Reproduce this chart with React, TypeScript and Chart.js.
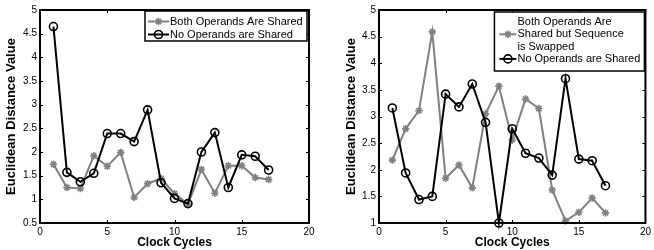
import React, { useEffect, useRef } from "react";
import { Chart, registerables } from "chart.js";
Chart.register(...registerables);

const cycles = [1, 2, 3, 4, 5, 6, 7, 8, 9, 10, 11, 12, 13, 14, 15, 16, 17];
const leftBoth = [1.74, 1.25, 1.23, 1.92, 1.70, 1.99, 1.04, 1.33, 1.44, 1.12, 0.90, 1.63, 1.13, 1.71, 1.71, 1.46, 1.42];
const leftNone = [4.65, 1.57, 1.37, 1.55, 2.39, 2.39, 2.22, 2.89, 1.35, 1.02, 0.91, 2.0, 2.41, 1.25, 1.94, 1.91, 1.62];
const rightSwapped = [2.18, 2.77, 3.11, 4.59, 1.84, 2.09, 1.66, 3.05, 3.57, 2.56, 3.33, 3.15, 1.62, 1.04, 1.20, 1.47, 1.19];
const rightNone = [3.16, 1.94, 1.44, 1.50, 3.42, 3.18, 3.61, 2.89, 1.0, 2.77, 2.31, 2.22, 1.90, 3.71, 2.20, 2.17, 1.70];

const xTicks = [0, 5, 10, 15, 20];
const leftYTicks = [0.5, 1, 1.5, 2, 2.5, 3, 3.5, 4, 4.5, 5];
const rightYTicks = [1, 1.5, 2, 2.5, 3, 3.5, 4, 4.5, 5];

const xTitle = "Clock Cycles";
const yTitle = "Euclidean Distance Value";
const legendLeft = [["Both Operands Are Shared"], ["No Operands are Shared"]];
const legendRight = [["Both Operands Are", "Shared but Sequence", "is Swapped"], ["No Operands are Shared"]];

const FONT = "'Liberation Sans', Arial, Helvetica, sans-serif";
const GRAY = "#808080";
const BLACK = "#000000";

function drawMarker(ctx: CanvasRenderingContext2D, style: string, x: number, y: number, r: number, color: string, lw: number) {
  ctx.save();
  ctx.strokeStyle = color;
  ctx.lineWidth = lw;
  ctx.beginPath();
  if (style === "circle") {
    ctx.arc(x, y, r, 0, Math.PI * 2);
  } else {
    for (let k = 0; k < 4; k++) {
      const a = (k * Math.PI) / 4;
      ctx.moveTo(x - Math.cos(a) * r, y - Math.sin(a) * r);
      ctx.lineTo(x + Math.cos(a) * r, y + Math.sin(a) * r);
    }
  }
  ctx.stroke();
  ctx.restore();
}

const framePlugin = {
  id: "frame",
  afterDatasetsDraw(chart: any) {
    const { ctx, chartArea } = chart;
    const { left, right, top, bottom } = chartArea;
    const xs = chart.scales.x;
    const ys = chart.scales.y;
    const tl = 3;
    ctx.save();
    ctx.strokeStyle = "#000";
    ctx.lineWidth = 1;
    ctx.beginPath();
    xs.ticks.forEach((t: any) => {
      const px = Math.round(xs.getPixelForValue(t.value)) + 0.5;
      ctx.moveTo(px, bottom);
      ctx.lineTo(px, bottom - tl);
      ctx.moveTo(px, top);
      ctx.lineTo(px, top + tl);
    });
    ys.ticks.forEach((t: any) => {
      const py = Math.round(ys.getPixelForValue(t.value)) + 0.5;
      ctx.moveTo(left, py);
      ctx.lineTo(left + tl, py);
      ctx.moveTo(right, py);
      ctx.lineTo(right - tl, py);
    });
    ctx.stroke();
    ctx.lineWidth = 2;
    ctx.strokeRect(left, top, right - left, bottom - top);
    ctx.restore();
  },
};

const boxLegendPlugin = {
  id: "boxLegend",
  afterDraw(chart: any, _args: any, opts: any) {
    if (!opts || !opts.entries) return;
    const { ctx, chartArea } = chart;
    const bx = chartArea.right - opts.rightGap - opts.width;
    const by = chartArea.top + opts.topGap;
    ctx.save();
    ctx.fillStyle = "#fff";
    ctx.fillRect(bx, by, opts.width, opts.height);
    ctx.strokeStyle = "#000";
    ctx.lineWidth = 1.5;
    ctx.strokeRect(bx, by, opts.width, opts.height);
    ctx.font = `11px ${FONT}`;
    ctx.textBaseline = "middle";
    ctx.textAlign = "left";
    ctx.fillStyle = "#000";
    let row = 0;
    opts.entries.forEach((lines: string[], i: number) => {
      const ds = chart.data.datasets[i];
      const mid = by + opts.first + (row + (lines.length - 1) / 2) * opts.lineHeight;
      ctx.save();
      ctx.strokeStyle = ds.borderColor;
      ctx.lineWidth = ds.borderWidth;
      ctx.beginPath();
      ctx.moveTo(bx + opts.sampleStart, mid);
      ctx.lineTo(bx + opts.sampleEnd, mid);
      ctx.stroke();
      ctx.restore();
      drawMarker(ctx, ds.pointStyle, bx + (opts.sampleStart + opts.sampleEnd) / 2, mid, ds.pointRadius, ds.pointBorderColor, ds.pointBorderWidth);
      ctx.fillStyle = "#000";
      lines.forEach((ln: string, j: number) => {
        ctx.fillText(ln, bx + opts.textX, by + opts.first + (row + j) * opts.lineHeight);
      });
      row += lines.length;
    });
    ctx.restore();
  },
};

function makeConfig(grayData: number[], blackData: number[], yTicks: number[], yWidth: number, rightPad: number, titlePad: number, legend: any) {
  const mk = (arr: number[]) => arr.map((v, i) => ({ x: cycles[i], y: v }));
  return {
    type: "line" as const,
    data: {
      datasets: [
        {
          data: mk(grayData),
          borderColor: GRAY,
          borderWidth: 2,
          pointStyle: "star",
          pointRadius: 3.7,
          pointBorderWidth: 1.6,
          pointBorderColor: GRAY,
          pointBackgroundColor: GRAY,
          order: 2,
          clip: false,
        },
        {
          data: mk(blackData),
          borderColor: BLACK,
          borderWidth: 2,
          pointStyle: "circle",
          pointRadius: 4,
          pointBorderWidth: 1.6,
          pointBorderColor: BLACK,
          pointBackgroundColor: "rgba(0,0,0,0)",
          order: 1,
          clip: false,
        },
      ],
    },
    options: {
      responsive: false,
      animation: false as const,
      devicePixelRatio: 1,
      layout: { padding: { top: 10, right: rightPad, bottom: 0, left: 0 } },
      plugins: {
        legend: { display: false },
        tooltip: { enabled: false },
        boxLegend: legend,
      },
      elements: { line: { tension: 0 } },
      scales: {
        x: {
          type: "linear" as const,
          min: xTicks[0],
          max: xTicks[xTicks.length - 1],
          afterBuildTicks: (s: any) => {
            s.ticks = xTicks.map((v) => ({ value: v }));
          },
          afterFit: (s: any) => {
            s.height = 27;
          },
          grid: { display: false, drawTicks: false },
          border: { display: false },
          ticks: {
            font: { family: FONT, size: 10 },
            color: "#000",
            padding: 3,
            maxRotation: 0,
            autoSkip: false,
            callback: (v: any) => String(v),
          },
          title: {
            display: true,
            text: xTitle,
            color: "#000",
            font: { family: FONT, size: 12, weight: "bold" as const },
            padding: { top: 0, bottom: 0 },
          },
        },
        y: {
          type: "linear" as const,
          min: yTicks[0],
          max: yTicks[yTicks.length - 1],
          afterBuildTicks: (s: any) => {
            s.ticks = yTicks.map((v) => ({ value: v }));
          },
          afterFit: (s: any) => {
            s.width = yWidth;
          },
          grid: { display: false, drawTicks: false },
          border: { display: false },
          ticks: {
            font: { family: FONT, size: 10 },
            color: "#000",
            padding: 3,
            autoSkip: false,
            callback: (v: any) => String(v),
          },
          title: {
            display: true,
            text: yTitle,
            color: "#000",
            font: { family: FONT, size: 13, weight: "bold" as const },
            padding: { top: titlePad, bottom: 0 },
          },
        },
      },
    },
    plugins: [framePlugin, boxLegendPlugin],
  };
}

function ChartCanvas({ config, width, left }: { config: any; width: number; left: number }) {
  const ref = useRef<HTMLCanvasElement | null>(null);
  useEffect(() => {
    if (!ref.current) return;
    const chart = new Chart(ref.current, config);
    return () => chart.destroy();
  }, []);
  return (
    <canvas
      ref={ref}
      width={width}
      height={250}
      style={{ position: "absolute", left, top: 0, width, height: 250 }}
    />
  );
}

export default function App() {
  const leftCfg = makeConfig(leftBoth, leftNone, leftYTicks, 40, 18, 4, {
    entries: legendLeft,
    width: 162,
    height: 30,
    rightGap: 2,
    topGap: 1,
    first: 10.5,
    lineHeight: 13,
    sampleStart: 3,
    sampleEnd: 24,
    textX: 25,
  });
  const rightCfg = makeConfig(rightSwapped, rightNone, rightYTicks, 52, 7, 17, {
    entries: legendRight,
    width: 150,
    height: 59,
    rightGap: 1,
    topGap: 2,
    first: 10,
    lineHeight: 12.3,
    sampleStart: 5,
    sampleEnd: 22,
    textX: 23,
  });
  return (
    <div style={{ position: "absolute", left: 0, top: 0, width: 654, height: 250, background: "#fff" }}>
      <ChartCanvas config={leftCfg} width={327} left={0} />
      <ChartCanvas config={rightCfg} width={327} left={327} />
    </div>
  );
}
